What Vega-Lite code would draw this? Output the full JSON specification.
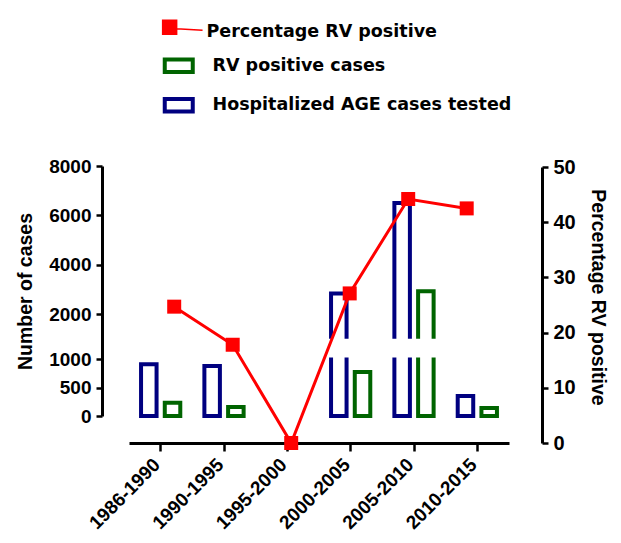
{
  "$schema": "https://vega.github.io/schema/vega-lite/v6.json",
  "width": 380,
  "height": 276,
  "autosize": {"type": "none"},
  "padding": {"left": 129, "top": 167, "right": 112, "bottom": 100},
  "background": "white",
  "config": {
    "view": {"stroke": null},
    "axis": {
      "grid": false,
      "domainColor": "black",
      "tickColor": "black",
      "labelColor": "black",
      "titleColor": "black",
      "labelFont": "Liberation Sans",
      "titleFont": "Liberation Sans",
      "labelFontWeight": "bold",
      "titleFontWeight": "bold",
      "domainWidth": 3,
      "tickWidth": 2.5
    }
  },
  "datasets": {
    "cases": [
      {"period": "1986-1990", "series": "Hospitalized AGE cases tested", "value": 907},
      {"period": "1986-1990", "series": "RV positive cases", "value": 233},
      {"period": "1990-1995", "series": "Hospitalized AGE cases tested", "value": 877},
      {"period": "1990-1995", "series": "RV positive cases", "value": 158},
      {"period": "2000-2005", "series": "Hospitalized AGE cases tested", "value": 2827},
      {"period": "2000-2005", "series": "RV positive cases", "value": 772},
      {"period": "2005-2010", "series": "Hospitalized AGE cases tested", "value": 6505},
      {"period": "2005-2010", "series": "RV positive cases", "value": 2925},
      {"period": "2010-2015", "series": "Hospitalized AGE cases tested", "value": 351},
      {"period": "2010-2015", "series": "RV positive cases", "value": 140}
    ],
    "pct": [
      {"period": "1986-1990", "pct": 24.7},
      {"period": "1990-1995", "pct": 17.8},
      {"period": "1995-2000", "pct": 0},
      {"period": "2000-2005", "pct": 27.1},
      {"period": "2005-2010", "pct": 44.2},
      {"period": "2010-2015", "pct": 42.5}
    ],
    "brk": [{"lo": 1000, "hi": 1001}]
  },
  "layer": [
    {
      "data": {"name": "cases"},
      "mark": {"type": "bar", "filled": false, "strokeWidth": 4, "y2Offset": -1.5},
      "encoding": {
        "x": {
          "field": "period",
          "type": "nominal",
          "scale": {"domain": ["1986-1990", "1990-1995", "1995-2000", "2000-2005", "2005-2010", "2010-2015"], "paddingInner": 0, "paddingOuter": 0},
          "axis": {"title": null, "labelAngle": -45, "labelFontSize": 19, "tickSize": 8, "labelPadding": 4, "labelOffset": -10}
        },
        "xOffset": {
          "field": "series",
          "type": "nominal",
          "scale": {"domain": ["Hospitalized AGE cases tested", "RV positive cases"], "paddingInner": 0.346, "paddingOuter": 0.508}
        },
        "y": {
          "field": "value",
          "type": "quantitative",
          "scale": {"domain": [0, 1000, 1001, 8000], "range": [249, 192, 171.67, -1], "nice": false, "zero": false},
          "axis": {"orient": "left", "offset": 27, "values": [0, 500, 1000, 2000, 4000, 6000, 8000], "format": "d", "labelFontSize": 19, "tickSize": 6, "labelPadding": 5, "title": "Number of cases", "titleFontSize": 19.5, "titlePadding": 13, "zindex": 0}
        },
        "color": {
          "field": "series",
          "type": "nominal",
          "scale": {"domain": ["Percentage RV positive", "RV positive cases", "Hospitalized AGE cases tested"], "range": ["#FF0000", "#006400", "#000080"]},
          "legend": {
            "orient": "none",
            "legendX": 41,
            "legendY": -143.5,
            "padding": 0,
            "title": null,
            "direction": "vertical",
            "symbolSize": 784,
            "symbolStrokeWidth": 4,
            "rowPadding": 9.5,
            "labelOffset": 25,
            "labelFont": "DejaVu Sans",
            "labelFontSize": 17.5,
            "labelFontWeight": "bold",
            "labelColor": "black",
            "labelLimit": 500
          }
        }
      }
    },
    {
      "data": {"name": "brk"},
      "mark": {"type": "rect", "color": "white", "xOffset": -31, "yOffset": -1.5},
      "encoding": {
        "y": {"field": "lo", "type": "quantitative", "scale": {"domain": [0, 1000, 1001, 8000], "range": [249, 192, 171.67, -1], "nice": false, "zero": false}, "axis": null},
        "y2": {"field": "hi"}
      }
    },
    {
      "data": {"name": "pct"},
      "mark": {"type": "line", "strokeWidth": 3, "point": {"shape": "square", "size": 196, "filled": true, "opacity": 1}},
      "encoding": {
        "x": {
          "field": "period",
          "type": "ordinal",
          "scale": {"type": "point", "domain": ["1986-1990", "1990-1995", "1995-2000", "2000-2005", "2005-2010", "2010-2015"], "range": [45.2, 337.7], "padding": 0},
          "axis": null
        },
        "y": {
          "field": "pct",
          "type": "quantitative",
          "scale": {"domain": [0, 50], "nice": false},
          "axis": {"orient": "right", "offset": 33, "values": [0, 10, 20, 30, 40, 50], "format": "d", "labelFontSize": 20, "tickSize": 6, "labelPadding": 5, "title": "Percentage RV positive", "titleFontSize": 19.5, "titlePadding": 12, "titleY": 130}
        },
        "color": {
          "datum": "Percentage RV positive",
          "legend": {
            "orient": "none",
            "legendX": 41,
            "legendY": -143.5,
            "padding": 0,
            "title": null,
            "direction": "vertical",
            "symbolSize": 784,
            "symbolStrokeWidth": 4,
            "rowPadding": 9.5,
            "labelOffset": 25,
            "labelFont": "DejaVu Sans",
            "labelFontSize": 17.5,
            "labelFontWeight": "bold",
            "labelColor": "black",
            "labelLimit": 500,
            "encode": {
              "symbols": {
                "update": {
                  "shape": {"signal": "datum.value === 'Percentage RV positive' ? 'M-1.15,-0.85H-0.15V0.15H-1.15Z M-0.15,-0.25L1.7,-0.15' : 'M-1,-0.45H1V0.45H-1Z'"},
                  "fillOpacity": {"signal": "datum.value === 'Percentage RV positive' ? 1 : 0"},
                  "strokeWidth": {"signal": "datum.value === 'Percentage RV positive' ? 1.5 : 4"},
                  "opacity": {"value": 1}
                }
              },
              "labels": {
                "update": {
                  "dx": {"signal": "datum.value === 'Percentage RV positive' ? -6 : 0"}
                }
              }
            }
          }
        }
      }
    }
  ],
  "resolve": {
    "scale": {"x": "independent", "y": "independent"},
    "axis": {"x": "independent", "y": "independent"}
  }
}
